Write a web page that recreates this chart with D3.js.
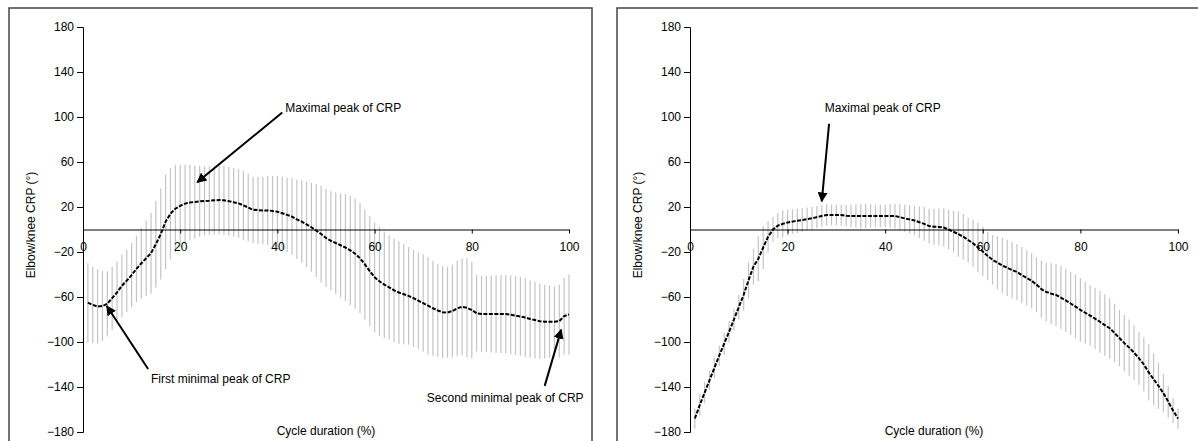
<!DOCTYPE html>
<html>
<head>
<meta charset="utf-8">
<script src="https://cdn.jsdelivr.net/npm/d3@7"></script>
<style>
  body { margin: 0; background: #fff; }
  text { font-family: Arial, "Liberation Sans", sans-serif; }
</style>
</head>
<body>
<script>
// cycle duration (%) of every sample
var cycle = d3.range(1, 101);
var xTicks = [0, 20, 40, 60, 80, 100];
var yTicks = [-180, -140, -100, -60, -20, 20, 60, 100, 140, 180];

// left chart: mean CRP and its standard deviation
var meanA = [-65, -67, -68.5, -68, -66, -61, -56, -50, -45.5, -40.5,
  -35, -30, -25.5, -21, -13, -4, 7, 14, 18.5, 21,
  23, 24, 24.5, 25, 25.3, 25.6, 26, 26.2, 26, 25.2,
  24.2, 23.2, 21.5, 19.5, 17.5, 17.2, 17, 17, 16.5, 15.8,
  14.5, 13, 11.5, 9, 7, 4.5, 2, -1, -4, -7.5,
  -10, -12, -14, -16, -18.5, -21.5, -25.5, -31, -37, -42.5,
  -46, -49, -51.5, -54, -56, -57.5, -59, -61, -63.3, -65.5,
  -67.7, -70, -72, -73.5, -73.8, -72.5, -70, -68.8, -69.5, -71.6,
  -74.5, -75.1, -75.1, -75.1, -75.1, -75.1, -75.2, -75.8, -76.5, -77.3,
  -78.3, -79.5, -80.5, -81.5, -82, -82, -82, -81.5, -77, -75.5];
var sdA = [35, 34, 33, 31, 29, 28, 27.5, 27.5, 27.5, 28.5,
  29.5, 31.5, 33.5, 36, 38.5, 40.5, 42, 40.5, 39, 36.5,
  34.5, 33.5, 32.5, 31.5, 30.7, 30.5, 30.5, 30.5, 30.6, 30.5,
  30.5, 30.5, 30.4, 30, 29.5, 29.8, 30, 30.5, 31, 31.6,
  32.3, 33, 34, 35.2, 36.5, 38, 39.5, 41.2, 43, 43.5,
  44, 45, 46.3, 47.5, 48.5, 49, 49, 49, 49, 48.8,
  48.4, 47.3, 46.3, 46, 45.5, 44.5, 43.5, 43.2, 43, 43.2,
  43.3, 42.3, 41.3, 40.8, 40.3, 41.2, 42.2, 43, 44, 42.8,
  34, 34, 34, 34.2, 34.4, 34.6, 34.8, 35, 35, 35,
  35, 34.5, 34, 33.3, 32.6, 32, 31.4, 32.5, 34, 35.5];

// right chart: mean CRP and its standard deviation
var meanB = [-168, -156, -145, -134, -123, -112, -101.5, -91, -80, -69,
  -58, -45, -33, -26, -16, -6.5, 0, 3.5, 5, 6.2,
  7, 7.8, 8.4, 9.2, 10, 11, 12, 12.9, 13, 13,
  12.8, 12.2, 12, 12, 12, 12, 12, 12, 12, 12,
  12, 12, 11, 9.9, 9, 8, 6.5, 5, 3, 2.5,
  2.2, 1.8, 0, -2, -4.2, -6.4, -9.3, -12.3, -16, -19.5,
  -23.5, -27, -29.5, -32, -34, -36, -37.8, -40.5, -43, -45.5,
  -49, -53, -55.5, -57, -58.2, -60.5, -63, -65.8, -68.5, -71.5,
  -74, -76.5, -79.3, -82, -85, -87.8, -92, -96.5, -101, -105,
  -109.5, -114.5, -120, -127, -133, -139, -145.5, -153, -161, -168];
var sdB = [9, 9.5, 9.5, 8.5, 9, 9, 10, 9.5, 9.5, 11,
  14, 16, 16, 20, 19, 14, 11, 11.5, 12, 11.5,
  11, 10.8, 10.5, 10.3, 10, 9.8, 9.5, 9.5, 9.3, 9,
  9.2, 9.5, 10, 10.5, 11, 11, 10.5, 10, 10, 10,
  10.5, 11, 11.5, 12, 12.5, 13, 14, 15, 15.5, 16,
  16.5, 17, 17.5, 18.5, 20, 20.5, 20, 21, 22, 22,
  21.5, 22, 23.5, 24.5, 25, 25, 25, 25, 24.5, 24.5,
  24.5, 25.5, 26, 27, 27.5, 28, 28, 28, 28.2, 28.3,
  27.5, 26.8, 27.2, 27.6, 27.3, 27, 26, 25, 25, 25,
  24.2, 23.5, 24, 25, 23, 20.5, 17, 14, 11, 9];

var width = 1198, height = 441;

var svg = d3.select("body").append("svg")
  .attr("width", width)
  .attr("height", height);

svg.append("defs").append("marker")
  .attr("id", "head")
  .attr("viewBox", "0 0 10 10")
  .attr("refX", 9)
  .attr("refY", 5)
  .attr("markerWidth", 5)
  .attr("markerHeight", 5)
  .attr("orient", "auto")
  .append("path")
  .attr("d", "M0,0 L10,5 L0,10 z")
  .attr("fill", "#000");

var panels = [
  {frame: [9, 8, 583, 440], x0: 83, x1: 569, mean: meanA, sd: sdA,
   notes: [
     {text: "Maximal peak of CRP", tx: 41.6, ty: 108, anchor: "start", from: [41, 104], to: [23.5, 42]},
     {text: "First minimal peak of CRP", tx: 14, ty: -133, anchor: "start", from: [13.4, -124], to: [4.9, -68]},
     {text: "Second minimal peak of CRP", tx: 103, ty: -150, anchor: "end", from: [95, -139], to: [98.4, -89]}
   ]},
  {frame: [617, 8, 600, 440], x0: 690, x1: 1178, mean: meanB, sd: sdB,
   notes: [
     {text: "Maximal peak of CRP", tx: 27.6, ty: 108, anchor: "start", from: [28.5, 94], to: [27, 25]}
   ]}
];

panels.forEach(function(p) {
  var g = svg.append("g");

  g.append("rect")
    .attr("x", p.frame[0])
    .attr("y", p.frame[1])
    .attr("width", p.frame[2])
    .attr("height", p.frame[3])
    .style("fill", "none")
    .style("stroke", "#444")
    .style("stroke-width", "1.5px");

  var x = d3.scaleLinear().domain([0, 100]).range([p.x0, p.x1]);
  var y = d3.scaleLinear().domain([-180, 180]).range([432, 27]);

  // standard deviation bars
  g.selectAll(".sd")
    .data(cycle)
    .enter().append("line")
    .attr("class", "sd")
    .attr("x1", function(d) { return x(d); })
    .attr("x2", function(d) { return x(d); })
    .attr("y1", function(d, i) { return y(p.mean[i] + p.sd[i]); })
    .attr("y2", function(d, i) { return y(p.mean[i] - p.sd[i]); })
    .style("stroke", "#c4c4c4")
    .style("stroke-width", "1.2px");

  // y axis
  var yAxis = g.append("g")
    .attr("transform", "translate(" + p.x0 + ",0)")
    .call(d3.axisLeft(y).tickValues(yTicks).tickSize(6).tickPadding(3).tickFormat(d3.format("d")));
  yAxis.select(".domain").attr("stroke", "#000");
  yAxis.selectAll("text").style("font-size", "12px").style("fill", "#000")
    .style("font-family", "Arial, 'Liberation Sans', sans-serif");

  // x axis on the zero line
  var xAxis = g.append("g")
    .attr("transform", "translate(0," + y(0) + ")")
    .call(d3.axisBottom(x).tickValues(xTicks).tickSize(4).tickPadding(9).tickSizeOuter(0));
  xAxis.select(".domain").attr("stroke", "#000");
  xAxis.selectAll("text").style("font-size", "12px").style("fill", "#000")
    .style("font-family", "Arial, 'Liberation Sans', sans-serif");

  // mean curve
  var line = d3.line()
    .x(function(d) { return x(d); })
    .y(function(d, i) { return y(p.mean[i]); });

  g.append("path")
    .datum(cycle)
    .attr("d", line)
    .style("fill", "none")
    .style("stroke", "#000")
    .style("stroke-width", "2px")
    .style("stroke-dasharray", "4,1.5");

  // titles
  g.append("text")
    .attr("transform", "translate(" + (p.x0 - 52) + ",225) rotate(-90)")
    .attr("dy", "0.35em")
    .style("text-anchor", "middle")
    .style("font-size", "12px")
    .text("Elbow/knee CRP (°)");

  g.append("text")
    .attr("x", (p.x0 + p.x1) / 2)
    .attr("y", 435)
    .style("text-anchor", "middle")
    .style("font-size", "12px")
    .text("Cycle duration (%)");

  // annotations
  p.notes.forEach(function(n) {
    g.append("line")
      .attr("x1", x(n.from[0]))
      .attr("y1", y(n.from[1]))
      .attr("x2", x(n.to[0]))
      .attr("y2", y(n.to[1]))
      .style("stroke", "#000")
      .style("stroke-width", "2px")
      .attr("marker-end", "url(#head)");

    g.append("text")
      .attr("x", x(n.tx))
      .attr("y", y(n.ty))
      .attr("dy", "0.35em")
      .style("text-anchor", n.anchor)
      .style("font-size", "12px")
      .text(n.text);
  });
});
</script>
</body>
</html>
